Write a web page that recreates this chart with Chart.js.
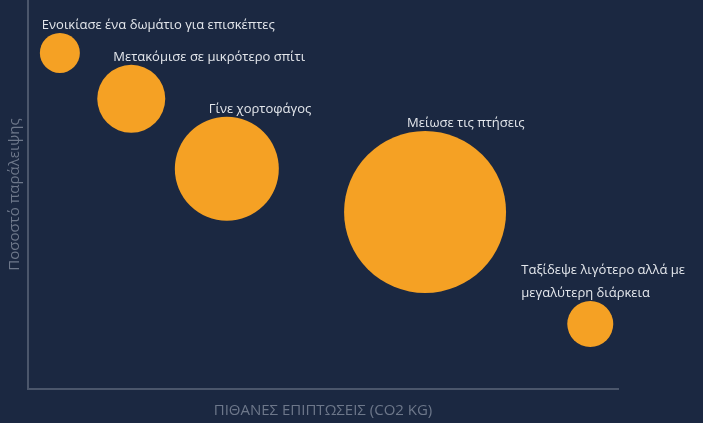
<!DOCTYPE html>
<html lang="el">
<head>
  <meta charset="UTF-8">
  <title>Bubble chart</title>
  <script src="https://cdn.jsdelivr.net/npm/chart.js@4.4.1/dist/chart.umd.min.js"></script>
  <style>
    html, body { margin: 0; padding: 0; background: #1b2841; }
    #wrap { width: 703px; height: 423px; }
  </style>
</head>
<body>
  <div id="wrap"><canvas id="chart"></canvas></div>
  <script>
    // Actions (each line is a label line)
    const actions = [
      ['Ενοικίασε ένα δωμάτιο για επισκέπτες'],
      ['Μετακόμισε σε μικρότερο σπίτι'],
      ['Γίνε χορτοφάγος'],
      ['Μείωσε τις πτήσεις'],
      ['Ταξίδεψε λιγότερο αλλά με', 'μεγαλύτερη διάρκεια']
    ];
    // (axes have no ticks, 0..100)
    const impact = [5.4, 17.5, 33.7, 67.3, 95.3];     // x: CO2 kg
    const skipRate = [86.4, 74.6, 56.6, 45.5, 16.7];  // y: percentage
    const bubbleSize = [20, 34, 52, 81, 23];          // radius

    const labelFont = '13px "Open Sans", sans-serif';

    // draws the text above each bubble
    const bubbleLabels = {
      id: 'bubbleLabels',
      afterDatasetsDraw(chart) {
        const ctx = chart.ctx;
        const meta = chart.getDatasetMeta(0);
        ctx.save();
        ctx.font = labelFont;
        ctx.fillStyle = '#e4e7ec';
        ctx.textBaseline = 'middle';
        ctx.textAlign = 'left';
        meta.data.forEach((pt, i) => {
          const lines = actions[i];
          const r = pt.options.radius;
          const w = Math.max(...lines.map(l => ctx.measureText(l).width));
          let x = pt.x - 18;
          if (x + w > chart.width - 18) x = chart.width - 18 - w;
          const lastY = pt.y - r - 8;
          lines.forEach((l, j) => {
            ctx.fillText(l, x, lastY - (lines.length - 1 - j) * 23);
          });
        });
        ctx.restore();
      }
    };

    const points = impact.map((v, i) => ({ x: v, y: skipRate[i], r: bubbleSize[i] }));

    new Chart(document.getElementById('chart'), {
      type: 'bubble',
      data: {
        datasets: [{
          data: points,
          backgroundColor: '#f5a124',
          borderColor: '#f5a124',
          borderWidth: 0,
          clip: false
        }]
      },
      options: {
        responsive: true,
        maintainAspectRatio: false,
        animation: false,
        events: [],
        layout: { autoPadding: false, padding: { left: 0, top: 0, right: 85, bottom: 0 } },
        plugins: {
          legend: { display: false },
          tooltip: { enabled: false }
        },
        scales: {
          x: {
            min: 0, max: 100,
            grid: { display: false, drawTicks: false },
            ticks: { display: false },
            border: { color: '#4b566b', width: 2 },
            title: {
              display: true,
              text: 'ΠΙΘΑΝΕΣ ΕΠΙΠΤΩΣΕΙΣ (CO2 KG)',
              color: '#6d778a',
              font: { family: '"Open Sans", sans-serif', size: 15 },
              padding: { top: 13, bottom: 3 }
            }
          },
          y: {
            min: 0, max: 100,
            grid: { display: false, drawTicks: false },
            ticks: { display: false },
            border: { color: '#4b566b', width: 2 },
            title: {
              display: true,
              text: 'Ποσοστό παράλειψης',
              color: '#6d778a',
              font: { family: '"Open Sans", sans-serif', size: 15 },
              padding: { top: 6, bottom: 4 }
            }
          }
        }
      },
      plugins: [bubbleLabels]
    });
  </script>
</body>
</html>
